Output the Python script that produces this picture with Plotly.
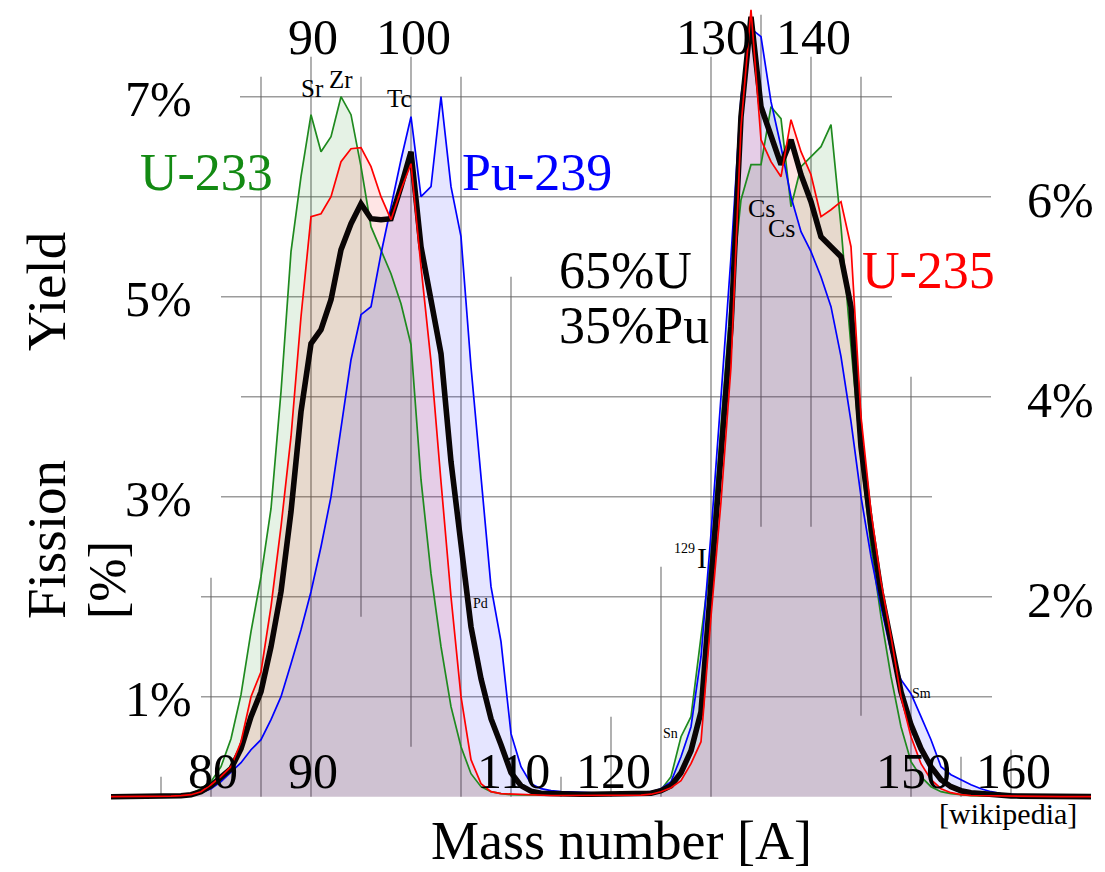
import plotly.graph_objects as go

# ---------------- data ----------------
mass_numbers = list(range(70, 169))

yield_u235 = [
    0, 0, 0, 0, 0.002, 0.004, 0.006, 0.01, 0.02, 0.05,
    0.12, 0.2, 0.3, 0.55, 1.0, 1.25, 1.9, 2.7, 3.6, 4.8,
    5.8, 5.83, 6.0, 6.35, 6.48, 6.49, 6.3, 6.0, 5.77, 6.07,
    6.33, 5.3, 4.35, 3.15, 2.0, 1.0, 0.37, 0.13, 0.05, 0.03,
    0.025, 0.02, 0.015, 0.015, 0.012, 0.012, 0.012, 0.012, 0.012, 0.012,
    0.013, 0.013, 0.015, 0.016, 0.025, 0.05, 0.09, 0.16, 0.33, 0.55,
    1.8, 2.95, 4.3, 6.7, 7.87, 6.57, 6.35, 6.2, 6.77, 6.45,
    6.22, 5.8, 5.87, 5.95, 5.5, 3.8, 2.85, 2.15, 1.6, 1.0,
    0.6, 0.33, 0.17, 0.08, 0.04, 0.02, 0.012, 0.01, 0.008, 0.006,
    0.005, 0.004, 0.003, 0.002, 0.002, 0.001, 0.001, 0.001, 0.001,
]

yield_u233 = [
    0, 0, 0, 0.002, 0.004, 0.008, 0.012, 0.02, 0.03, 0.08,
    0.15, 0.3, 0.58, 1.02, 1.65, 2.2, 2.88, 4.05, 5.45, 6.2,
    6.82, 6.45, 6.6, 7.0, 6.82, 6.3, 5.7, 5.47, 5.23, 4.93,
    4.52, 3.17, 2.23, 1.5, 0.9, 0.5, 0.23, 0.1, 0.05, 0.03,
    0.02, 0.018, 0.016, 0.015, 0.015, 0.015, 0.015, 0.015, 0.015, 0.015,
    0.015, 0.015, 0.016, 0.02, 0.03, 0.07, 0.2, 0.6, 0.8, 1.6,
    2.4, 3.7, 5.0, 5.97, 6.32, 6.32, 6.9, 6.78, 5.9, 6.3,
    6.4, 6.5, 6.72, 5.7, 4.5, 3.4, 2.5, 1.8, 1.2, 0.7,
    0.35, 0.2, 0.1, 0.05, 0.03, 0.02, 0.01, 0.008, 0.006, 0.004,
    0.003, 0.002, 0.001, 0.001, 0.001, 0, 0, 0, 0,
]

yield_pu239 = [
    0, 0, 0, 0, 0.002, 0.004, 0.007, 0.012, 0.02, 0.04,
    0.08, 0.15, 0.24, 0.34, 0.47, 0.57, 0.77, 1.0, 1.33, 1.67,
    2.05, 2.5, 3.0, 3.7, 4.37, 4.82, 4.9, 5.43, 5.9, 6.37,
    6.8, 6.0, 6.1, 7.0, 6.1, 5.6, 4.3, 3.2, 2.1, 1.55,
    0.63, 0.3, 0.13, 0.08, 0.06, 0.05, 0.045, 0.04, 0.035, 0.035,
    0.035, 0.035, 0.04, 0.045, 0.05, 0.08, 0.15, 0.4, 0.7, 1.4,
    2.63, 4.0, 5.4, 7.0, 7.68, 7.6, 6.95, 6.5, 6.0, 5.65,
    5.45, 5.2, 4.9, 4.4, 3.75, 3.0, 2.4, 1.9, 1.45, 1.17,
    1.03, 0.8, 0.57, 0.3, 0.22, 0.17, 0.12, 0.08, 0.05, 0.03,
    0.02, 0.015, 0.01, 0.008, 0.006, 0.004, 0.003, 0.002, 0.001,
]

yield_mix = [
    0, 0, 0, 0, 0.002, 0.004, 0.006, 0.01, 0.02, 0.05,
    0.11, 0.19, 0.28, 0.48, 0.8, 1.05, 1.5, 2.05, 2.85, 3.85,
    4.53, 4.67, 4.97, 5.47, 5.73, 5.93, 5.78, 5.77, 5.78, 6.1,
    6.45, 5.5, 4.93, 4.43, 3.35, 2.55, 1.7, 1.18, 0.78, 0.52,
    0.24, 0.11, 0.055, 0.035, 0.03, 0.025, 0.025, 0.025, 0.025, 0.025,
    0.025, 0.025, 0.025, 0.03, 0.035, 0.06, 0.11, 0.24, 0.46, 0.85,
    2.1, 3.3, 4.7, 6.8, 7.8, 6.9, 6.6, 6.32, 6.57, 6.22,
    5.95, 5.6, 5.5, 5.4, 4.9, 3.5, 2.7, 2.05, 1.55, 1.05,
    0.72, 0.48, 0.3, 0.17, 0.1, 0.06, 0.04, 0.03, 0.02, 0.012,
    0.008, 0.006, 0.004, 0.003, 0.002, 0.001, 0.001, 0.001, 0.001,
]

for _s in (yield_u235, yield_u233, yield_pu239, yield_mix):
    if len(_s) != len(mass_numbers):
        raise ValueError("series length mismatch")

top_ticks = [90, 100, 130, 140]
bottom_ticks = [80, 90, 110, 120, 150, 160]
left_ticks = [1, 3, 5, 7]
right_ticks = [2, 4, 6]

element_names = ["Sr", "Zr", "Tc", "Cs", "Cs", "Pd", "Sn", "Sm", "129", "I"]

# ---------------- layout helpers ----------------
PAGE_W, PAGE_H = 1105, 872
OFF = 8                       # default page margin around the figure
W, H = PAGE_W - OFF, PAGE_H - OFF
X_RANGE = [90 + (OFF - 311) / 10, 90 + (PAGE_W - 311) / 10]
Y_RANGE = [(796.7 - PAGE_H) / 100, (796.7 - OFF) / 100]


def ax(page_px):
    return 90 + (page_px - 311) / 10


def ay(page_py):
    return (796.7 - page_py) / 100


SERIF = "Liberation Serif, Times New Roman, serif"
GRID = "rgba(95,95,95,0.62)"

fig = go.Figure()

# fills
fill_specs = [
    (yield_u233, "rgba(0,128,0,0.10)"),
    (yield_u235, "rgba(255,0,0,0.10)"),
    (yield_pu239, "rgba(0,0,255,0.10)"),
]
for ys, fc in fill_specs:
    fig.add_trace(go.Scatter(x=mass_numbers, y=ys, mode="lines", fill="tozeroy",
                             fillcolor=fc, line=dict(width=0), hoverinfo="skip"))

# lines
line_specs = [
    ("U-233", yield_u233, "#1f8a1f", 1.7),
    ("Pu-239", yield_pu239, "#0000ff", 1.7),
    ("65%U 35%Pu", yield_mix, "#0a0505", 5.6),
    ("U-235", yield_u235, "#ff0000", 1.7),
]
for name, ys, col, w in line_specs:
    fig.add_trace(go.Scatter(x=mass_numbers, y=ys, mode="lines", name=name,
                             line=dict(color=col, width=w)))

# grid segments (mass, from %, to %) and (yield, from mass, to mass)
v_grid = [
    (75, 0, 0.2), (80, 0, 2.19), (85, 0, 7.2), (90, 0, 7.4), (95, 1.8, 7.2),
    (100, 0.5, 7.4), (105, 0, 7.2), (110, 0, 5.2), (115, 0, 0.2), (120, 0, 0.8),
    (125, 0, 2.3), (130, 0, 7.4), (135, 2.7, 7.82), (140, 2.7, 7.4),
    (145, 0.81, 7.2), (150, 0, 4.2), (155, 0, 0.4), (160, 0, 0.47),
]
h_grid = [
    (7, 82.9, 148.1), (6, 82.9, 158), (5, 81, 148.1), (4, 83, 158),
    (3, 81, 152.1), (2, 79, 158.1), (1, 79, 158.1),
]
shapes = []
for m, y0, y1 in v_grid:
    shapes.append(dict(type="line", xref="x", yref="y", x0=m, x1=m, y0=y0, y1=y1,
                       line=dict(color=GRID, width=1.6), layer="below"))
for yv, x0, x1 in h_grid:
    shapes.append(dict(type="line", xref="x", yref="y", x0=x0, x1=x1, y0=yv, y1=yv,
                       line=dict(color=GRID, width=1.6), layer="below"))

ann = []


def label(text, x, y, size, color="black", xanchor="center", angle=0):
    ann.append(dict(text=text, x=x, y=y, xref="x", yref="y", showarrow=False,
                    xanchor=xanchor, yanchor="middle", textangle=angle,
                    borderpad=0,
                    font=dict(family=SERIF, size=size, color=color)))


TICK = 50
for t in top_ticks:
    label(str(t), t + 0.2, ay(37), TICK)
for t in bottom_ticks:
    label(str(t), t + 0.2, ay(771), TICK)
for t in left_ticks:
    label(f"{t}%", ax(193), t - 0.02, TICK, xanchor="right")
for t in right_ticks:
    label(f"{t}%", ax(1095), t - 0.03, TICK, xanchor="right")

# series names
label("U-233", ax(206), ay(172), 52, color="#138a13")
label("Pu-239", ax(537), ay(172), 52, color="#0000ff")
label("U-235", ax(928), ay(270), 52, color="#ff0000")
label("65%U", ax(558), ay(270), 52, xanchor="left")
label("35%Pu", ax(558), ay(325), 52, xanchor="left")

# axis titles
label("Yield", ax(46), ay(292), 55, angle=-90)
label("Fission", ax(46), ay(540), 55, angle=-90)
label("[%]", ax(107), ay(580), 52, angle=-90)
label("Mass number [A]", ax(621), ay(841), 54)
label("[wikipedia]", ax(1008), ay(813), 30)

# element markers
el_pos = [(312, 88, 25), (340.5, 79, 25), (399.5, 98.5, 25), (761, 208, 26),
          (781.5, 228, 26), (480.5, 603, 14), (670.5, 733, 14), (921, 693, 14),
          (684, 548, 14), (702, 557, 30)]
for name, (px, py, sz) in zip(element_names, el_pos):
    label(name, ax(px), ay(py), sz)

fig.update_layout(
    width=W, height=H, autosize=False,
    margin=dict(l=0, r=0, t=0, b=0, pad=0),
    paper_bgcolor="white", plot_bgcolor="white",
    showlegend=False,
    xaxis=dict(range=X_RANGE, visible=False, fixedrange=True),
    yaxis=dict(range=Y_RANGE, visible=False, fixedrange=True),
    shapes=shapes, annotations=ann,
)

fig.write_html("out.html")
